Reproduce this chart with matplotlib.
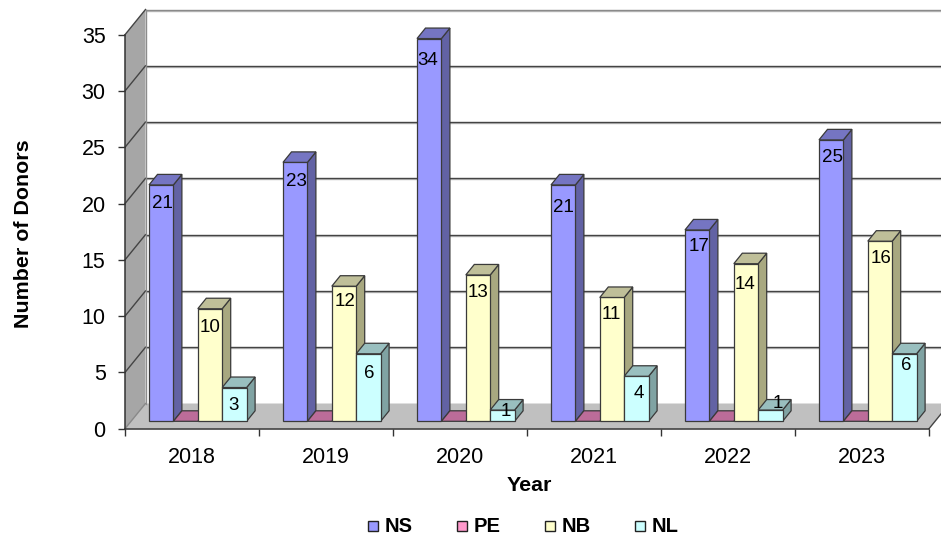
import matplotlib
matplotlib.use("Agg")
import matplotlib.pyplot as plt
import matplotlib.patheffects as pe
from matplotlib.lines import Line2D

plt.rcParams["font.family"] = ["Liberation Sans", "DejaVu Sans"]

years = ["2018", "2019", "2020", "2021", "2022", "2023"]
series = ["NS", "PE", "NB", "NL"]
ns = [21, 23, 34, 21, 17, 25]
pe_vals = [0, 0, 0, 0, 0, 0]
nb = [10, 12, 13, 11, 14, 16]
nl = [3, 6, 1, 4, 1, 6]
values = [ns, pe_vals, nb, nl]

# front, side, top
front = ["#9999FF", "#FF99CC", "#FFFFCC", "#CCFFFF"]
side = ["#6262A4", "#A36283", "#A8A880", "#80A3A3"]
top = ["#7575C2", "#BC6C99", "#BFBF99", "#99BFBF"]

W, H = 941, 540
X0, X1 = 125.0, 929.0
Y0, Y35 = 428.7, 34.7
PX_X = (X1 - X0) / 6
PX_Y = (Y0 - Y35) / 35

fig = plt.figure(figsize=(W / 100, H / 100), dpi=100)
ax = fig.add_axes([X0 / W, 1 - Y0 / H, (X1 - X0) / W, (Y0 - Y35) / H])
ax.set_xlim(0, 6)
ax.set_ylim(0, 35)
ax.patch.set_visible(False)


def dx(px):
    return px / PX_X


def dy(px):
    return px / PX_Y


wall_x, wall_y = dx(20.5), dy(25.2)
front_x, front_y = dx(5.8), dy(7.4)
bar_w, gap = dx(24.4), dx(18.2)
depth_x, depth_y = dx(8.5), dy(10.5)
right_edge = 6 + wall_x

# walls
ax.fill([0, wall_x, wall_x, 0], [0, wall_y, 35 + wall_y, 35], color="#A6A6A6", lw=0, clip_on=False, zorder=1)
ax.fill([0, 6, right_edge, wall_x], [0, 0, wall_y, wall_y], color="#C0C0C0", lw=0, clip_on=False, zorder=1)

shadow = [pe.SimpleLineShadow(offset=(0, -0.8), shadow_color="#AAAAAA", alpha=0.8), pe.Normal()]
for v in range(0, 40, 5):
    if v > 0:
        ax.plot([wall_x, right_edge], [v + wall_y, v + wall_y], color="#444444" if v < 35 else "#8A8A8A", lw=1.0,
                clip_on=False, zorder=2, path_effects=shadow)
    ax.plot([0, wall_x], [v, v + wall_y], color="#444444" if v else "#888888", lw=1.0, clip_on=False, zorder=2)
ax.plot([wall_x, wall_x], [wall_y, 35 + wall_y], color="#8C8C8C", lw=1.0, clip_on=False, zorder=2)
ax.plot([6, right_edge], [0, wall_y], color="#444444", lw=1.0, clip_on=False, zorder=2)

# bars, left to right so that nearer faces overlap properly
z = 3
edge = "#3A3A3A"
for i in range(len(years)):
    for j in range(len(series)):
        v = values[j][i]
        x = i + front_x + gap + j * bar_w
        b = front_y
        if v > 0:
            ax.fill([x + bar_w, x + bar_w + depth_x, x + bar_w + depth_x, x + bar_w],
                    [b, b + depth_y, b + v + depth_y, b + v],
                    facecolor=side[j], edgecolor=edge, lw=0.9, zorder=z, clip_on=False)
            ax.bar(x, v, bar_w, bottom=b, align="edge", color=front[j], edgecolor=edge, lw=0.9, zorder=z,
                   clip_on=False)
        ax.fill([x, x + bar_w, x + bar_w + depth_x, x + depth_x],
                [b + v, b + v, b + v + depth_y, b + v + depth_y],
                facecolor=top[j], edgecolor=edge, lw=0.9, zorder=z, clip_on=False)
        z += 1

# data labels: pixels right of bar centre, pixels below bar top, as placed in the original
label_place = {
    (0, 0): (1, 19), (0, 2): (0, 19), (0, 3): (-1, 17.5),
    (1, 0): (1, 19), (1, 2): (1, 15), (1, 3): (0.5, 20),
    (2, 0): (-1, 21.5), (2, 2): (0, 18), (2, 3): (3.5, 1),
    (3, 0): (0, 23), (3, 2): (-1, 17), (3, 3): (2.5, 17),
    (4, 0): (2, 17), (4, 2): (-1, 21), (4, 3): (7.5, -7),
    (5, 0): (1, 18), (5, 2): (1, 17), (5, 3): (1.5, 12),
}
for i in range(len(years)):
    for j in range(len(series)):
        v = values[j][i]
        if v == 0:
            continue
        x = i + front_x + gap + (j + 0.5) * bar_w
        nx, ny = label_place[(i, j)]
        ax.annotate(str(v), (x, front_y + v), xytext=(nx, -ny), textcoords="offset pixels",
                    ha="center", va="center", fontsize=13.5, color="black", zorder=100)

# axes
for s in ("top", "right"):
    ax.spines[s].set_visible(False)
for s in ("left", "bottom"):
    ax.spines[s].set_color("#333333")
    ax.spines[s].set_linewidth(1.1)
    ax.spines[s].set_zorder(90)
ax.set_yticks(range(0, 40, 5))
ax.set_xticks(range(7))
ax.set_xticklabels([])
ax.set_xticks([i + 0.5 for i in range(6)], minor=True)
ax.set_xticklabels(years, minor=True)
ax.tick_params(axis="y", length=5, width=1, color="#333333", labelsize=15.5, pad=9)
ax.tick_params(axis="x", which="major", length=5, width=1, color="#333333")
ax.tick_params(axis="x", which="minor", length=0, labelsize=15.5, pad=13)
ax.set_xlabel("Year", fontsize=15.4, fontweight="bold")
ax.xaxis.set_label_coords((529 - X0) / (X1 - X0), -(476 - Y0) / (Y0 - Y35))
ax.set_ylabel("Number of Donors", fontsize=15.4, fontweight="bold")
ax.yaxis.set_label_coords((33 - X0) / (X1 - X0), (Y0 - 234) / (Y0 - Y35))

# legend, spaced by hand since the entries sit on a fixed pitch
legend_x = [373, 462, 550, 640]
for j, name in enumerate(series):
    fig.add_artist(Line2D([legend_x[j] / W], [1 - 526 / H], ls="", marker="s", ms=7.4, mfc=front[j],
                          mec="#222222", mew=1.0))
    fig.text((legend_x[j] + 11.5) / W, 1 - 526 / H, name, fontsize=14.5, fontweight="bold", ha="left", va="center")

fig.savefig("out.png", dpi=100)
